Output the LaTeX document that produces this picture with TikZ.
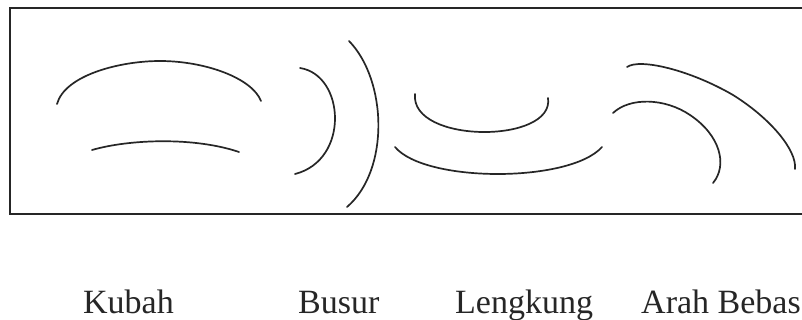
\documentclass[tikz,border=0pt]{standalone}
\usepackage{fontspec}
\setmainfont{Liberation Serif}
\begin{document}
\begin{tikzpicture}[x=1pt,y=-1pt,
  frame/.style={draw=black!85, line width=2pt},
  stroke/.style={draw=black!85, line width=1.7pt, line cap=round},
  label/.style={anchor=base west, inner sep=0pt, text=black!85, font=\fontsize{34}{40}\selectfont}]
  \useasboundingbox (0,0) rectangle (802,320);
  \clip (0,0) rectangle (802,320);
  \fill[white] (0,0) rectangle (802,320);

  % outer frame (runs past the right edge)
  \draw[frame] (10,8.5) rectangle (830,214.5);

  % Kubah
  \draw[stroke] (57,104) .. controls (65,75) and (120,61) .. (160,61)
                         .. controls (205,61) and (252,78) .. (261,101);
  \draw[stroke] (92,150) .. controls (130,139) and (195,137) .. (239,152);

  % Busur
  \draw[stroke] (300,68) .. controls (345,75) and (350,160) .. (295,174);
  \draw[stroke] (349,41) .. controls (387,80) and (390,170) .. (347,207);

  % Lengkung
  \draw[stroke] (415,94) .. controls (410,144) and (555,144) .. (548,98);
  \draw[stroke] (395,147) .. controls (425,183) and (570,183) .. (602,147);

  % Arah Bebas
  \draw[stroke] (627,67) .. controls (640,58) and (690,70) .. (733,95)
                         .. controls (770,118) and (797,150) .. (795,169);
  \draw[stroke] (613,113) .. controls (630,97) and (665,98) .. (690,115)
                          .. controls (720,135) and (728,165) .. (713,183);

  % captions
  \node[label] (kubah) at (83,313) {Kubah};
  \node[label] (busur) at (298,313) {Busur};
  \node[label] (lengkung) at (455,313) {Lengkung};
  \node[label] (arah) at (641,313) {Arah Bebas};
\end{tikzpicture}
\end{document}
